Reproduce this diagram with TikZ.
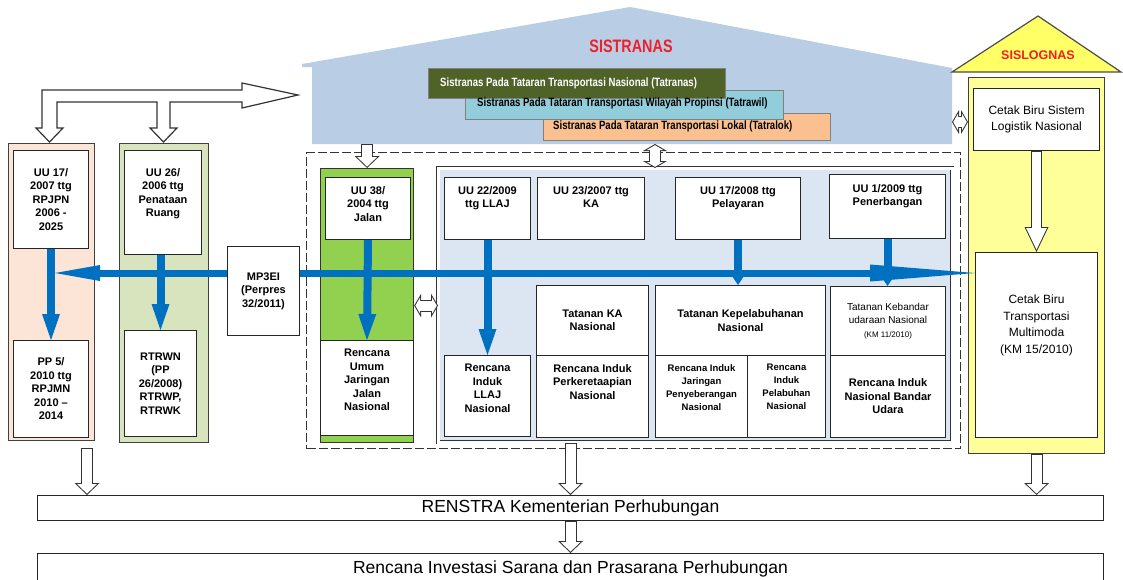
\documentclass[tikz,border=0pt]{standalone}
\usepackage{fontspec}
\setmainfont{Liberation Sans}
\newfontfamily\narrowfont[FakeStretch=0.8]{Liberation Sans}
\usetikzlibrary{arrows.meta,calc}

\definecolor{roofblue}{HTML}{B9CDE5}
\definecolor{darkolive}{HTML}{4F6228}
\definecolor{wilblue}{HTML}{92CDDC}
\definecolor{lokorange}{HTML}{FAC090}
\definecolor{pinkbg}{HTML}{FCE4D6}
\definecolor{sagebg}{HTML}{D7E4BD}
\definecolor{roadgreen}{HTML}{92D050}
\definecolor{paleblue}{HTML}{DCE6F2}
\definecolor{logroof}{HTML}{FFFF66}
\definecolor{logfill}{HTML}{FFFF99}
\definecolor{flowblue}{HTML}{0070C0}
\definecolor{sysred}{HTML}{F0202A}

\newcommand{\boxfont}{\fontsize{11}{13.5}\selectfont\bfseries}
\newcommand{\smallfont}{\fontsize{9.5}{13}\selectfont\bfseries}
\newcommand{\cbfont}{\fontsize{12}{16.5}\selectfont}
\newcommand{\stripfont}{\narrowfont\fontsize{12}{14}\selectfont\bfseries}
\newcommand{\titlefont}{\narrowfont\fontsize{18}{20}\selectfont\bfseries}
\newcommand{\barfont}{\fontsize{17.5}{20}\selectfont}

\tikzset{
  col/.style={draw=black!75, line width=1.2pt, inner sep=0pt, anchor=north west},
  box/.style={draw=black!85, fill=white, line width=1pt, inner sep=0pt,
    anchor=north west, align=center, font=\boxfont},
  lbl/.style={font=\boxfont, align=center, anchor=north, inner sep=0pt, yshift=-9pt},
  strip/.style={draw=black!50, line width=0.6pt, inner sep=0pt, anchor=north west},
  striptxt/.style={font=\stripfont, anchor=west, inner sep=0pt},
  flow/.style={draw=flowblue, line width=8pt,
    -{Triangle[length=26pt, width=18pt, line width=0pt]}},
  hol/.style={preaction={draw=black!80, line width=12pt, shorten >=0pt, shorten <=0pt,
      -{Triangle[length=12pt, width=25pt, line width=0pt]}},
    draw=white, line width=10pt, shorten >=1.4pt, shorten <=1pt,
    -{Triangle[length=9.6pt, width=20pt, line width=0pt]}},
  holl/.style={preaction={draw=black!80, line width=11pt, shorten >=0pt, shorten <=0pt,
      -{Triangle[length=25pt, width=24pt, line width=0pt]}},
    draw=white, line width=9pt, shorten >=2.3pt, shorten <=1pt,
    -{Triangle[length=21.7pt, width=20.8pt, line width=0pt]}},
  holtwo/.style={preaction={draw=black!80, line width=12pt, shorten >=0pt, shorten <=0pt,
      {Triangle[length=7pt, width=24pt, line width=0pt]}-{Triangle[length=7pt, width=24pt, line width=0pt]}},
    draw=white, line width=10pt, shorten >=1.2pt, shorten <=1.2pt,
    {Triangle[length=4.8pt, width=16.6pt, line width=0pt]}-{Triangle[length=4.8pt, width=16.6pt, line width=0pt]}},
}

\begin{document}
\begin{tikzpicture}[x=1pt, y=-1pt]
  \useasboundingbox (0,0) rectangle (1123,579);

  % Sistranas house with the three tataran strips
  \fill[roofblue] (302,64) -- (630,7) -- (952,68) -- (952,144) -- (312,144)
    -- (312,67) -- (302,67) -- cycle;
  \coordinate (sisb) at (630,144);
  \coordinate (sisR) at (952,122);
  \node[font=\titlefont, text=sysred] (sistranas) at (631,46) {SISTRANAS};
  \node[strip, fill=lokorange, minimum width=287pt, minimum height=27pt] (tatralok) at (543,113) {};
  \node[strip, fill=wilblue, minimum width=318pt, minimum height=29pt] (tatrawil) at (465,90) {};
  \node[strip, fill=darkolive, minimum width=297pt, minimum height=30pt] (tatranas) at (428,68) {};
  \node[striptxt, text=white] (tatranastxt) at ([xshift=12pt]tatranas.west)
    {Sistranas Pada Tataran Transportasi Nasional (Tatranas)};
  \node[striptxt] (tatrawiltxt) at ([xshift=12pt, yshift=1.5pt]tatrawil.west)
    {Sistranas Pada Tataran Transportasi Wilayah Propinsi (Tatrawil)};
  \node[striptxt] (tatraloktxt) at ([xshift=10pt]tatralok.west)
    {Sistranas Pada Tataran Transportasi Lokal (Tatralok)};

  % Sislognas house
  \draw[draw=black!70, line width=1.2pt, fill=logroof] (952,72) -- (1038,16) -- (1121,72) -- cycle;
  \node[font=\fontsize{12.5}{14}\selectfont\bfseries, text=sysred] (sislognas) at (1038,55) {SISLOGNAS};
  \node[col, fill=logfill, minimum width=136pt, minimum height=376pt] (logbody) at (968,77) {};
  \node[box, font=\cbfont, minimum width=126pt, minimum height=62pt] (cbsl) at (973,88)
    {Cetak Biru Sistem\\Logistik Nasional};
  \node[box, minimum width=122pt, minimum height=185pt,
    label={[lbl, font=\cbfont, yshift=-34pt]north:{Cetak Biru\\Transportasi\\Multimoda\\(KM 15/2010)}}]
    (cbtm) at (975,252) {};

  % RPJPN / RPJMN and tata ruang columns
  \node[col, fill=pinkbg, minimum width=86pt, minimum height=297pt] (col1) at (8,143) {};
  \node[box, minimum width=75pt, minimum height=98pt] (uu17) at (13,150) {UU 17/\\2007 ttg\\RPJPN\\2006 -\\2025};
  \node[box, minimum width=75pt, minimum height=97pt] (pp5) at (13,340) {PP 5/\\2010 ttg\\RPJMN\\2010 --\\2014};
  \node[col, fill=sagebg, minimum width=89pt, minimum height=299pt] (col2) at (119,143) {};
  \node[box, minimum width=77pt, minimum height=104pt,
    label={[lbl, yshift=-9pt]north:{UU 26/\\2006 ttg\\Penataan\\Ruang}}] (uu26) at (124,150) {};
  \node[box, minimum width=72pt, minimum height=106pt] (rtrwn) at (124,330) {RTRWN\\(PP\\26/2008)\\RTRWP,\\RTRWK};
  \node[box, minimum width=72pt, minimum height=89pt] (mp3ei) at (227,246) {MP3EI\\(Perpres\\32/2011)};

  % sectoral frame
  \node[draw=black!80, line width=1.2pt, dash pattern=on 9pt off 3pt, inner sep=0pt, anchor=north west,
    minimum width=654pt, minimum height=296pt] (frame) at (306,152) {};
  \node[col, fill=roadgreen, draw=black!80, minimum width=93pt, minimum height=274pt] (jalan) at (320,168) {};
  \node[box, minimum width=85pt, minimum height=62pt,
    label={[lbl]north:{UU 38/\\2004 ttg\\Jalan}}] (uu38) at (325,177) {};
  \node[box, minimum width=93pt, minimum height=95pt,
    label={[lbl]north:{Rencana\\Umum\\Jaringan\\Jalan\\Nasional}}] (rujj) at (320,340) {};
  \node[col, fill=paleblue, draw=black!80, line width=0.8pt, double=white, double distance=2.5pt,
    minimum width=514pt, minimum height=274pt] (moda) at (438,168) {};
  \node[box, minimum width=86pt, minimum height=62pt,
    label={[lbl]north:{UU 22/2009\\ttg LLAJ}}] (uu22) at (444,177) {};
  \node[box, minimum width=107pt, minimum height=62pt,
    label={[lbl]north:{UU 23/2007 ttg\\KA}}] (uu23) at (537,177) {};
  \node[box, minimum width=125pt, minimum height=62pt,
    label={[lbl]north:{UU 17/2008 ttg\\Pelayaran}}] (uu17p) at (675,177) {};
  \node[box, minimum width=116pt, minimum height=64pt,
    label={[lbl, yshift=-1pt]north:{UU 1/2009 ttg\\Penerbangan}}] (uu1) at (829,174) {};
  \node[box, minimum width=86pt, minimum height=81pt,
    label={[lbl]north:{Rencana\\Induk\\LLAJ\\Nasional}}] (rillaj) at (444,355) {};
  \node[box, minimum width=112pt, minimum height=70pt] (tka) at (536,285) {Tatanan KA\\Nasional};
  \node[box, minimum width=112pt, minimum height=82pt,
    label={[lbl]north:{Rencana Induk\\Perkeretaapian\\Nasional}}] (rika) at (536,355) {};
  \node[box, minimum width=170pt, minimum height=70pt] (tkp) at (655,285) {Tatanan Kepelabuhanan\\Nasional};
  \node[box, minimum width=92pt, minimum height=82pt,
    label={[lbl, font=\smallfont]north:{Rencana Induk\\Jaringan\\Penyeberangan\\Nasional}}] (rijp) at (655,355) {};
  \node[box, minimum width=78pt, minimum height=82pt,
    label={[lbl, font=\smallfont]north:{Rencana\\Induk\\Pelabuhan\\Nasional}}] (ripn) at (747,355) {};
  \node[box, font=\fontsize{10}{13.5}\selectfont, minimum width=115pt, minimum height=69pt] (tkbu) at (830,286)
    {Tatanan Kebandar\\udaraan Nasional\\{\fontsize{8}{10}\selectfont(KM 11/2010)}};
  \node[box, minimum width=115pt, minimum height=82pt] (rinbu) at (830,355) {Rencana Induk\\Nasional Bandar\\Udara};

  % renstra and investment plan
  \node[box, font=\barfont, minimum width=1066pt, minimum height=25pt] (renstra) at (37,495)
    {RENSTRA Kementerian Perhubungan};
  \node[box, font=\barfont, minimum width=1066pt, minimum height=30pt] (rispp) at (37,553)
    {Rencana Investasi Sarana dan Prasarana Perhubungan};

  % hollow block arrows
  \draw[draw=black!80, line width=1.2pt, fill=white]
    (42,128) -- (42,90) -- (242,90) -- (242,83) -- (298,95) -- (242,108) -- (242,102)
    -- (170,102) -- (170,128) -- (177,128) -- (163.5,142) -- (150,128) -- (157,128) -- (157,102)
    -- (57,102) -- (57,128) -- (63,128) -- (49.5,142) -- (36,128) -- cycle;
  \draw[hol] (jalan.north |- sisb) -- (jalan.north);
  \draw[holtwo] (tkp.north west |- sisb) -- (tkp.north west |- moda.north);
  \draw[holtwo] (jalan.east) -- (jalan.east -| moda.west);
  \draw[holtwo] (sisR) -- (sisR -| logbody.west);
  \draw[holl] (cbsl.south) -- (cbtm.north);
  \coordinate (d1) at (87,448);
  \draw[hol] (d1) -- (d1 |- renstra.north);
  \draw[hol] (renstra.north |- moda.south) -- (renstra.north);
  \draw[hol] (logbody.south) -- (logbody.south |- renstra.north);
  \draw[hol] (renstra.south) -- (rispp.north);

  % blue flows
  \draw[flow] (uu17.south) -- (pp5.north);
  \draw[flow] (rtrwn.north |- uu26.south) -- (rtrwn.north);
  \draw[flow] (uu38.south) -- (rujj.north);
  \draw[flow] (uu22.south) -- (rillaj.north);
  \draw[flow, -{Triangle[length=12pt, width=16pt, line width=0pt]}] (uu17p.south) -- (uu17p.south |- tkp.north);
  \draw[flow, -{Triangle[length=12pt, width=16pt, line width=0pt]}] (uu1.south) -- (uu1.south |- tkbu.north);
  \coordinate (busL) at (55,273);
  \draw[flow, line width=7pt, -{Triangle[length=45pt, width=16pt, line width=0pt]}] (mp3ei.west |- busL) -- (busL);
  \draw[flow, line width=7pt, -{Triangle[length=105pt, width=17pt, line width=0pt]}] (mp3ei.east |- busL) -- (cbtm.west |- busL);
\end{tikzpicture}
\end{document}
